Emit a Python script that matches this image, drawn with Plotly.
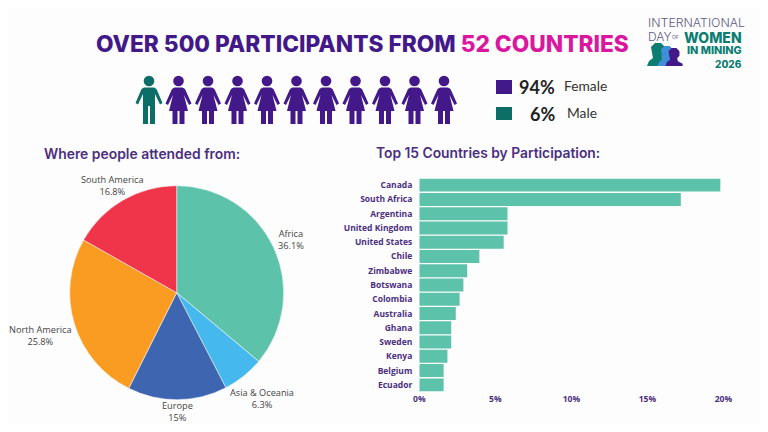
import plotly.graph_objects as go

# the page keeps the browser's 8px body margin, so the canvas is drawn 16px smaller
PAGE_MARGIN = 8
W, H = 768 - 2 * PAGE_MARGIN, 432 - 2 * PAGE_MARGIN

regions = ["Africa", "Asia & Oceania", "Europe", "North America", "South America"]
region_share = [36.1, 6.3, 15, 25.8, 16.8]
region_colors = ["#5cc2aa", "#45b8ee", "#3d65b0", "#fa9c22", "#f0344a"]
region_label_pos = [(291, 239.5), (262, 398.5), (177, 411.5), (40.5, 335), (113, 185.7)]

countries = ["Canada", "South Africa", "Argentina", "United Kingdom", "United States",
             "Chile", "Zimbabwe", "Botswana", "Colombia", "Australia",
             "Ghana", "Sweden", "Kenya", "Belgium", "Ecuador"]
country_share = [19.8, 17.2, 5.8, 5.8, 5.55, 3.95, 3.15, 2.9, 2.65, 2.4, 2.1, 2.1, 1.85, 1.6, 1.6]
share_ticks = [0, 5, 10, 15, 20]
share_tick_labels = ["0%", "5%", "10%", "15%", "20%"]

people_male = 1
people_female = 10

PURPLE = "#43198a"
TEAL = "#0d6e68"
MAGENTA = "#d9189f"
TEXT_PURPLE = "#4b2f7f"
LOGO_GREY = "#5f5b85"
LOGO_TEAL = "#0d7d72"


def px(x):
    return (x - PAGE_MARGIN) / W


def py(y):
    return 1 - (y - PAGE_MARGIN) / H


def path_at(cx, top, pts, scale=1.0):
    out = []
    for p in pts:
        if p == "Z":
            out.append("Z")
        else:
            out.append(f"{p[0]} {px(cx + p[1] * scale):.5f},{py(top + p[2] * scale):.5f}")
    return " ".join(out)


female = [("M", -4, 12.5), ("L", 4, 12.5), ("L", 6.5, 14), ("L", 13, 28.5), ("L", 10.5, 30),
          ("L", 5.5, 20), ("L", 9.5, 36), ("L", 6, 36), ("L", 6, 49), ("L", 1, 49), ("L", 1, 36),
          ("L", -1, 36), ("L", -1, 49), ("L", -6, 49), ("L", -6, 36), ("L", -9.5, 36),
          ("L", -5.5, 20), ("L", -10.5, 30), ("L", -13, 28.5), ("L", -6.5, 14), "Z"]
male = [("M", -5, 12.5), ("L", 5, 12.5), ("L", 7.5, 14), ("L", 13.5, 28), ("L", 11, 29.5),
        ("L", 6, 19), ("L", 6, 49), ("L", 1, 49), ("L", 1, 31), ("L", -1, 31), ("L", -1, 49),
        ("L", -6, 49), ("L", -6, 19), ("L", -11, 29.5), ("L", -13.5, 28), ("L", -7.5, 14), "Z"]
bust = [("M", -3, 0), ("L", 3, 0), ("L", 7, 4), ("L", 7, 10), ("L", 4, 13), ("L", 5, 17),
        ("L", 11, 20), ("L", 11, 23), ("L", -11, 23), ("L", -9, 18), ("L", -5, 15), ("L", -6, 10),
        ("L", -7, 4), "Z"]


def rect(x0, y0, x1, y1, color):
    return dict(type="rect", xref="paper", yref="paper", x0=px(x0), x1=px(x1),
                y0=py(y1), y1=py(y0), fillcolor=color, line_width=0, layer="above")


def head(cx, cy, r, color):
    return dict(type="circle", xref="paper", yref="paper", x0=px(cx - r), x1=px(cx + r),
                y0=py(cy + r), y1=py(cy - r), fillcolor=color, line_width=0, layer="above")


def poly(cx, top, pts, color, scale=1.0):
    return dict(type="path", xref="paper", yref="paper", path=path_at(cx, top, pts, scale),
                fillcolor=color, line_width=0, layer="above")


def label(x, y, text, size, color, family="Inter", weight=400, anchor="left"):
    return dict(xref="paper", yref="paper", x=px(x), y=py(y), text=text, showarrow=False,
                xanchor=anchor, yanchor="middle", borderpad=0,
                font=dict(family=family, size=size, color=color, weight=weight))


shapes = []
for i in range(people_male + people_female):
    cx = 149 + i * 29.5
    color = TEAL if i < people_male else PURPLE
    shapes.append(head(cx, 81, 5.3, color))
    shapes.append(poly(cx, 75, male if i < people_male else female, color))

shapes.append(rect(496, 80, 512, 94, PURPLE))
shapes.append(rect(496, 107, 512, 120, TEAL))
shapes.append(poly(658, 43, bust, LOGO_TEAL))
shapes.append(poly(667, 46, bust, "#3f8fd8", 20 / 23))
shapes.append(poly(674, 48, bust, PURPLE, 18 / 23))

annotations = [
    label(95, 43, f"<span style='color:{PURPLE}'>OVER 500 PARTICIPANTS FROM </span>"
                  f"<span style='color:{MAGENTA}'>52 COUNTRIES</span>", 22.7, PURPLE, weight=800),
    label(43, 154, "Where people attended from:", 13.9, TEXT_PURPLE, weight=600),
    label(375, 153, "Top 15 Countries by Participation:", 13.8, TEXT_PURPLE, weight=600),
    label(556, 87, "94%", 18, "#222222", "Lato", 700, "right"),
    label(556, 114, "6%", 18, "#222222", "Lato", 700, "right"),
    label(563, 85, "Female", 13.8, "#333333", "Lato"),
    label(566, 112, "Male", 13.8, "#333333", "Lato"),
    label(647, 23, "INTERNATIONAL", 12.3, LOGO_GREY, "Inter", 300),
    label(647, 37, "DAY", 12, LOGO_GREY, "Inter", 300),
    label(675, 37, "OF", 5, LOGO_GREY, "Inter", 400, "center"),
    label(743, 38, "WOMEN", 14, LOGO_TEAL, "Inter", 800, "right"),
    label(743, 50.5, "IN MINING", 10.8, LOGO_TEAL, "Inter", 800, "right"),
    label(743, 63.5, "2026", 10, LOGO_TEAL, "Inter", 800, "right"),
]
for name, share, (lx, ly) in zip(regions, region_share, region_label_pos):
    annotations.append(label(lx, ly, f"{name}<br>{share}%", 9.2, "#444444", "Open Sans", 400, "center"))

fig = go.Figure()

fig.add_trace(go.Pie(
    labels=regions,
    values=region_share,
    sort=False,
    direction="clockwise",
    rotation=0,
    marker=dict(colors=region_colors, line=dict(color="#ffffff", width=0.5)),
    textinfo="none",
    automargin=False,
    domain=dict(x=[px(69.7), px(283.7)], y=[py(399.7), py(185.7)]),
    showlegend=False,
))

fig.add_trace(go.Bar(
    x=country_share,
    y=countries,
    orientation="h",
    marker=dict(color="#5cc2aa", line_width=0),
    xaxis="x",
    yaxis="y",
    showlegend=False,
))

fig.update_layout(
    width=W,
    height=H,
    margin=dict(l=0, r=0, t=0, b=0, pad=0),
    paper_bgcolor="#fdfdfd",
    plot_bgcolor="#fdfdfd",
    bargap=0.09,
    shapes=shapes,
    annotations=annotations,
    xaxis=dict(domain=[px(419.3), px(731)], range=[0, 20.5], tickvals=share_ticks,
               ticktext=share_tick_labels, showgrid=False, zeroline=False, ticklen=0,
               automargin=False,
               tickfont=dict(family="Open Sans", size=8.5, color=TEXT_PURPLE, weight=700),
               anchor="y"),
    yaxis=dict(domain=[py(392), py(178)], autorange="reversed", showgrid=False, ticklen=0,
               ticklabelstandoff=6, automargin=False,
               tickfont=dict(family="Open Sans", size=8.5, color=TEXT_PURPLE, weight=700),
               anchor="x"),
)

fig.write_html("out.html")
